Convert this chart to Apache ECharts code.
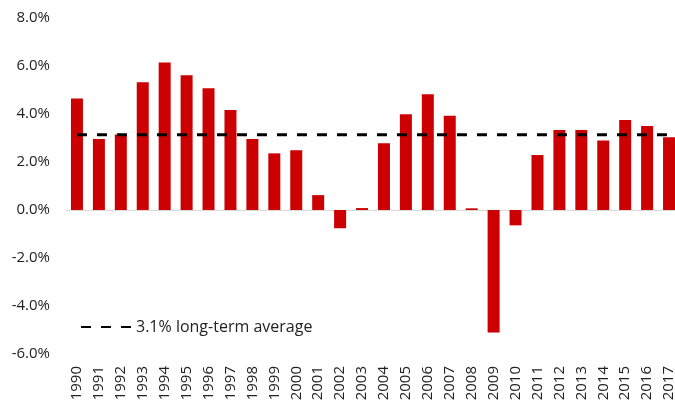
<!DOCTYPE html>
<html>
<head>
<meta charset="utf-8">
<script src="https://cdn.jsdelivr.net/npm/echarts@6/dist/echarts.min.js"></script>
<style>html,body{margin:0;padding:0;background:#fff}#c{width:675px;height:401px}</style>
</head>
<body>
<div id="c"></div>
<script>
var years = ['1990','1991','1992','1993','1994','1995','1996','1997','1998','1999','2000','2001','2002','2003','2004','2005','2006','2007','2008','2009','2010','2011','2012','2013','2014','2015','2016','2017'];
var growth = [4.65,2.96,3.15,5.32,6.15,5.61,5.07,4.17,2.96,2.36,2.49,0.62,-0.76,0.08,2.78,3.99,4.82,3.93,0.07,-5.10,-0.64,2.29,3.33,3.33,2.90,3.75,3.50,3.03];
var longTermAverage = 3.14;
var averageName = '3.1% long-term average';
var yTicks = {min: -6, max: 8, interval: 2};

var avgData = years.map(function(){ return longTermAverage; });
var font = 'Open Sans';
var chart = echarts.init(document.getElementById('c'));
chart.setOption({
  animation: false,
  textStyle: {fontFamily: font},
  grid: {left: 66, top: 18, width: 614, height: 336, containLabel: false, outerBoundsMode: 'none'},
  legend: {
    left: 80, top: 319, padding: 0, itemWidth: 50, itemHeight: 14, itemGap: 6,
    data: [averageName],
    itemStyle: {opacity: 0},
    textStyle: {fontFamily: font, fontSize: 16, color: '#222'}
  },
  xAxis: [{
    type: 'category', data: years, position: 'bottom',
    axisLine: {show: false, onZero: false}, axisTick: {show: false},
    axisLabel: {rotate: 90, fontSize: 15, color: '#222', margin: 12, fontFamily: font}
  }, {
    type: 'category', data: years, position: 'bottom',
    axisLine: {show: true, onZero: true, lineStyle: {color: '#d9d9d9', width: 1}},
    axisTick: {show: false}, axisLabel: {show: false}
  }],
  yAxis: {
    type: 'value', min: yTicks.min, max: yTicks.max, interval: yTicks.interval,
    splitLine: {show: false}, axisLine: {show: false}, axisTick: {show: false},
    axisLabel: {fontSize: 15, color: '#222', margin: 16, fontFamily: font,
      formatter: function(v){ return v.toFixed(1) + '%'; }}
  },
  series: [{
    type: 'bar', data: growth, barWidth: 12,
    itemStyle: {color: '#cc0000'}
  }, {
    type: 'line', name: averageName, data: avgData, symbol: 'none',
    lineStyle: {color: '#000', width: 3, type: [10, 10]},
    itemStyle: {color: '#000'}, z: 5
  }]
});
</script>
</body>
</html>
